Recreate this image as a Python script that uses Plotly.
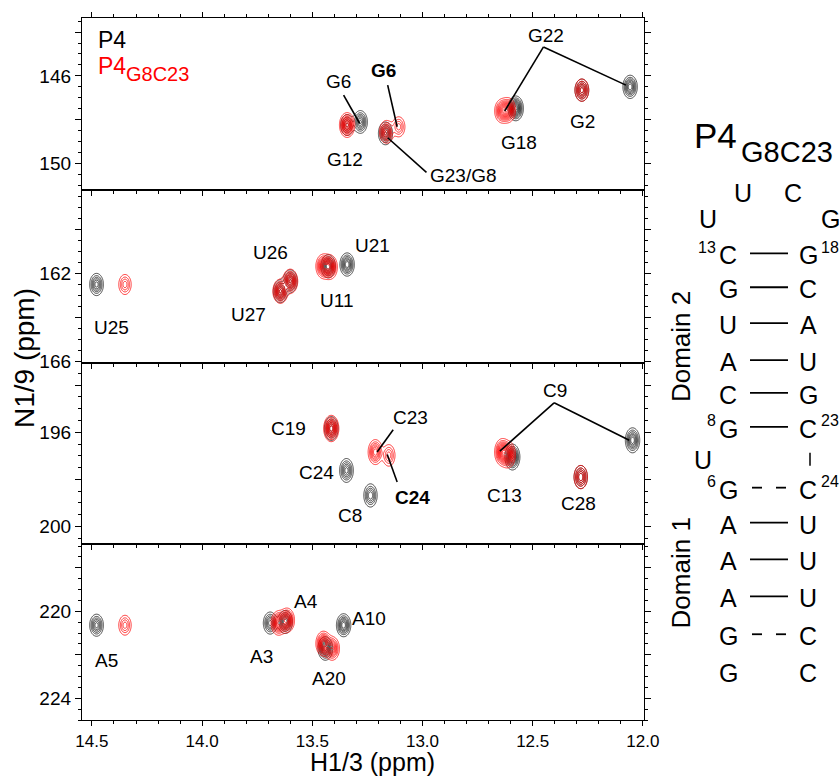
import numpy as np
import plotly.graph_objects as go

# ---------------- data (ppm) ----------------
# Panel 1: G imino N1 region
p1_black_x = [13.342, 13.282, 13.168, 12.577, 12.277, 12.058]
p1_black_y = [148.24, 148.10, 148.62, 147.48, 146.65, 146.50]
p1_black_a = [0.8, 1.1, 1.1, 1.6, 1.0, 1.2]
p1_red_x = [13.342, 13.163, 13.108, 12.612, 12.640, 12.277]
p1_red_y = [148.24, 148.55, 148.32, 147.56, 147.60, 146.65]
p1_red_a = [1.6, 1.1, 0.7, 1.5, 1.2, 1.0]

# Panel 2: U imino N3 region
p2_black_x = [14.479, 13.645, 13.600, 13.428, 13.342]
p2_black_y = [162.51, 162.82, 162.36, 161.68, 161.60]
p2_black_a = [1.0, 1.1, 1.1, 1.2, 1.2]
p2_red_x = [14.350, 13.645, 13.600, 13.450, 13.420]
p2_red_y = [162.51, 162.82, 162.36, 161.68, 161.72]
p2_red_a = [0.7, 1.4, 1.4, 1.4, 1.4]

# Panel 3: C region
p3_black_x = [13.414, 13.345, 13.236, 12.592, 12.282, 12.047]
p3_black_y = [195.84, 197.62, 198.68, 197.05, 197.90, 196.34]
p3_black_a = [1.0, 1.0, 0.9, 1.4, 0.9, 1.2]
p3_red_x = [13.414, 13.214, 13.153, 12.638, 12.612, 12.282]
p3_red_y = [195.84, 196.84, 196.98, 196.84, 196.95, 197.90]
p3_red_a = [1.5, 1.2, 0.7, 1.6, 1.4, 0.9]

# Panel 4: A region
p4_black_x = [14.479, 13.691, 13.623, 13.441, 13.358]
p4_black_y = [220.64, 220.54, 220.49, 221.71, 220.64]
p4_black_a = [1.0, 1.0, 1.2, 1.3, 1.2]
p4_red_x = [14.350, 13.653, 13.615, 13.449, 13.410]
p4_red_y = [220.64, 220.54, 220.41, 221.48, 221.71]
p4_red_a = [0.7, 1.5, 1.5, 1.6, 1.3]

# tick labels
x_tickvals = [14.5, 14.0, 13.5, 13.0, 12.5, 12.0]
y_ticks = [[144, 146, 148, 150], [160, 162, 164, 166], [194, 196, 198, 200], [218, 220, 222, 224]]
y_ticktext = [["", "146", "", "150"], ["", "162", "", "166"], ["", "196", "", "200"], ["", "220", "", "224"]]

# peak labels: (text, x ppm, y ppm)
labels = [
    [("G22", 12.438, 144.15), ("G6", 13.380, 146.27), ("<b>G6</b>", 13.179, 145.74), ("G12", 13.35, 149.83),
     ("G23/G8", 12.812, 150.56), ("G18", 12.562, 149.05), ("G2", 12.274, 148.09)],
    [("U25", 14.41, 164.45), ("U26", 13.691, 161.03), ("U27", 13.79, 163.88), ("U11", 13.388, 163.24),
     ("U21", 13.227, 160.73)],
    [("C19", 13.608, 195.84), ("C24", 13.479, 197.69), ("C8", 13.33, 199.53), ("C23", 13.055, 195.37),
     ("<b>C24</b>", 13.047, 198.78), ("C13", 12.63, 198.68), ("C28", 12.292, 199.03), ("C9", 12.399, 194.21)],
    [("A5", 14.433, 222.25), ("A3", 13.729, 222.06), ("A4", 13.527, 219.53), ("A20", 13.426, 223.09),
     ("A10", 13.244, 220.33)],
]
# leader lines (panel index, x0, y0, x1, y1) in ppm
leaders = [
    (0, 12.451, 144.68, 12.627, 147.60), (0, 12.451, 144.68, 12.077, 146.42),
    (0, 13.358, 146.88, 13.285, 148.17), (0, 13.158, 146.42, 13.115, 148.32),
    (0, 12.982, 150.40, 13.158, 148.82),
    (2, 13.133, 195.89, 13.206, 196.84), (2, 13.115, 198.11, 13.160, 196.94),
    (2, 12.403, 194.75, 12.649, 196.80), (2, 12.403, 194.75, 12.062, 196.34),
]

# secondary structure
left_seq = ["C", "G", "U", "A", "C", "G", "G", "A", "A", "A", "G", "G"]
right_seq = ["G", "C", "A", "U", "G", "C", "C", "U", "U", "U", "C", "C"]
bonds = ["-", "-", "-", "-", "-", "-", "--", "-", "-", "-", "--", ""]
left_sup = {0: "13", 5: "8", 6: "6"}
right_sup = {0: "18", 5: "23", 6: "24"}

# ---------------- layout geometry ----------------
W, H = 839, 778
ML, MR, MT, MB = 82, 195, 16, 58
PW = W - ML - MR
PH = H - MT - MB


def pxx(v):
    return (v - ML) / PW


def pyy(v):
    return (H - MB - v) / PH


panel_px = [(16, 188), (188, 362), (362, 543), (543, 720)]
y_ranges = [[151.18, 143.36], [166.09, 158.18], [200.72, 193.06], [225.0, 216.88]]
x_range = [14.545, 11.995]
SX, SY = 0.016, 0.26
FONT = "Arial, Liberation Sans, sans-serif"

fig = go.Figure()


def peak_grid(xs, ys, amps):
    gx = np.unique(np.concatenate([np.linspace(x - 4.5 * SX, x + 4.5 * SX, 45) for x in xs]))
    gy = np.unique(np.concatenate([np.linspace(y - 4.5 * SY, y + 4.5 * SY, 45) for y in ys]))
    X, Y = np.meshgrid(gx, gy)
    Z = np.zeros_like(X)
    for x0, y0, a in zip(xs, ys, amps):
        Z += a * np.exp(-0.5 * ((X - x0) / SX) ** 2 - 0.5 * ((Y - y0) / SY) ** 2)
    return gx, gy, np.round(Z, 3)


panels = [
    (p1_black_x, p1_black_y, p1_black_a, p1_red_x, p1_red_y, p1_red_a),
    (p2_black_x, p2_black_y, p2_black_a, p2_red_x, p2_red_y, p2_red_a),
    (p3_black_x, p3_black_y, p3_black_a, p3_red_x, p3_red_y, p3_red_a),
    (p4_black_x, p4_black_y, p4_black_a, p4_red_x, p4_red_y, p4_red_a),
]

for i, (bx, by, ba, rx, ry, ra) in enumerate(panels):
    xa = "x" if i == 0 else f"x{i+1}"
    ya = "y" if i == 0 else f"y{i+1}"
    for xs, ys, aa, col in [(bx, by, ba, "#1a1a1a"), (rx, ry, ra, "#ff0000")]:
        gx, gy, Z = peak_grid(xs, ys, aa)
        fig.add_trace(go.Contour(
            x=gx, y=gy, z=Z, xaxis=xa, yaxis=ya,
            contours=dict(coloring="none", start=0.15, end=5, size=0.15),
            line=dict(color=col, width=0.8),
            showscale=False, hoverinfo="skip", showlegend=False,
        ))

layout = dict(
    width=W, height=H,
    margin=dict(l=ML, r=MR, t=MT, b=MB),
    paper_bgcolor="white", plot_bgcolor="white",
    font=dict(family=FONT, color="black"),
    showlegend=False,
)

for i in range(4):
    top, bot = panel_px[i]
    xk = "xaxis" if i == 0 else f"xaxis{i+1}"
    yk = "yaxis" if i == 0 else f"yaxis{i+1}"
    ya = "y" if i == 0 else f"y{i+1}"
    xa = "x" if i == 0 else f"x{i+1}"
    layout[xk] = dict(
        domain=[0, 1], anchor=ya, range=x_range, autorange=False,
        tickmode="array", tickvals=x_tickvals, ticktext=[f"{v:.1f}" for v in x_tickvals],
        showticklabels=(i == 3), ticks="outside", ticklen=5, tickwidth=1.2, tickcolor="black",
        showline=True, linecolor="black", linewidth=1.3,
        mirror="ticks" if i == 0 else True, showgrid=False, zeroline=False,
        minor=dict(dtick=0.1, tick0=0, ticklen=3, ticks="outside", tickcolor="black", showgrid=False),
        tickfont=dict(size=17, family=FONT),
    )
    if i > 0:
        layout[xk]["matches"] = "x"
    layout[yk] = dict(
        domain=[pyy(bot), pyy(top)], anchor=xa, range=y_ranges[i], autorange=False,
        tickmode="array", tickvals=y_ticks[i], ticktext=y_ticktext[i],
        ticks="outside", ticklen=6, tickwidth=1.2, tickcolor="black",
        showline=True, linecolor="black", linewidth=1.3, mirror="ticks",
        showgrid=False, zeroline=False,
        minor=dict(dtick=0.5, tick0=0, ticklen=3, ticks="outside", tickcolor="black", showgrid=False),
        tickfont=dict(size=19, family=FONT),
    )

fig.update_layout(**layout)

ann = []
shapes = []


def paper_text(text, x, y, size, color="black", xanchor="center", angle=0):
    ann.append(dict(text=text, x=pxx(x), y=pyy(y), xref="paper", yref="paper",
                    xanchor=xanchor, yanchor="middle", textangle=angle, showarrow=False,
                    font=dict(size=size, family=FONT, color=color)))


for i, lab in enumerate(labels):
    xa = "x" if i == 0 else f"x{i+1}"
    ya = "y" if i == 0 else f"y{i+1}"
    for t, x, y in lab:
        ann.append(dict(text=t, x=x, y=y, xref=xa, yref=ya, showarrow=False,
                        xanchor="center", yanchor="middle",
                        font=dict(size=19, family=FONT, color="black")))
for p, x0, y0, x1, y1 in leaders:
    xa = "x" if p == 0 else f"x{p+1}"
    ya = "y" if p == 0 else f"y{p+1}"
    shapes.append(dict(type="line", xref=xa, yref=ya, x0=x0, y0=y0, x1=x1, y1=y1,
                       line=dict(color="black", width=1.6)))

# legend text (top-left)
paper_text("P4", 96, 38, 23, xanchor="left")
paper_text("P4", 96, 64, 23, color="#ff0000", xanchor="left")
paper_text("G8C23", 124, 72, 20, color="#ff0000", xanchor="left")

# axis titles
paper_text("N1/9 (ppm)", 24, 357, 28, angle=-90)
paper_text("H1/3 (ppm)", 372, 762, 25)

# structure title
paper_text("P4", 692, 134, 35, xanchor="left")
paper_text("G8C23", 739, 150, 29, xanchor="left")

row_y = [253, 287, 323, 360, 393, 427, 488, 523, 560, 597, 635, 672]
LX, RX = 728, 808
LETTER = 25
for k, (l, r, b) in enumerate(zip(left_seq, right_seq, bonds)):
    yy = row_y[k]
    paper_text(l, LX, yy + 1, LETTER)
    paper_text(r, RX, yy + 1, LETTER)
    if b == "-":
        shapes.append(dict(type="line", xref="paper", yref="paper", x0=pxx(750), x1=pxx(788),
                           y0=pyy(yy - 1), y1=pyy(yy - 1), line=dict(color="black", width=1.8)))
    elif b == "--":
        for d0, d1 in [(752, 762), (776, 786)]:
            shapes.append(dict(type="line", xref="paper", yref="paper", x0=pxx(d0), x1=pxx(d1),
                               y0=pyy(yy - 1), y1=pyy(yy - 1), line=dict(color="black", width=1.8)))
    if k in left_sup:
        paper_text(left_sup[k], LX - 10, yy - 7, 16, xanchor="right")
    if k in right_sup:
        paper_text(right_sup[k], RX + 11, yy - 7, 16, xanchor="left")

# loop and bulge nucleotides
for t, x, y in [("U", 743, 191), ("C", 793, 191), ("U", 708, 218), ("G", 830, 218), ("U", 703, 459)]:
    paper_text(t, x, y, LETTER)
shapes.append(dict(type="line", xref="paper", yref="paper", x0=pxx(810), x1=pxx(810),
                   y0=pyy(452), y1=pyy(465), line=dict(color="black", width=1.5)))

# domain labels
paper_text("Domain 2", 681, 346, 26, angle=-90)
paper_text("Domain 1", 681, 573, 26, angle=-90)

fig.update_layout(annotations=ann, shapes=shapes)
fig.write_html("out.html")
